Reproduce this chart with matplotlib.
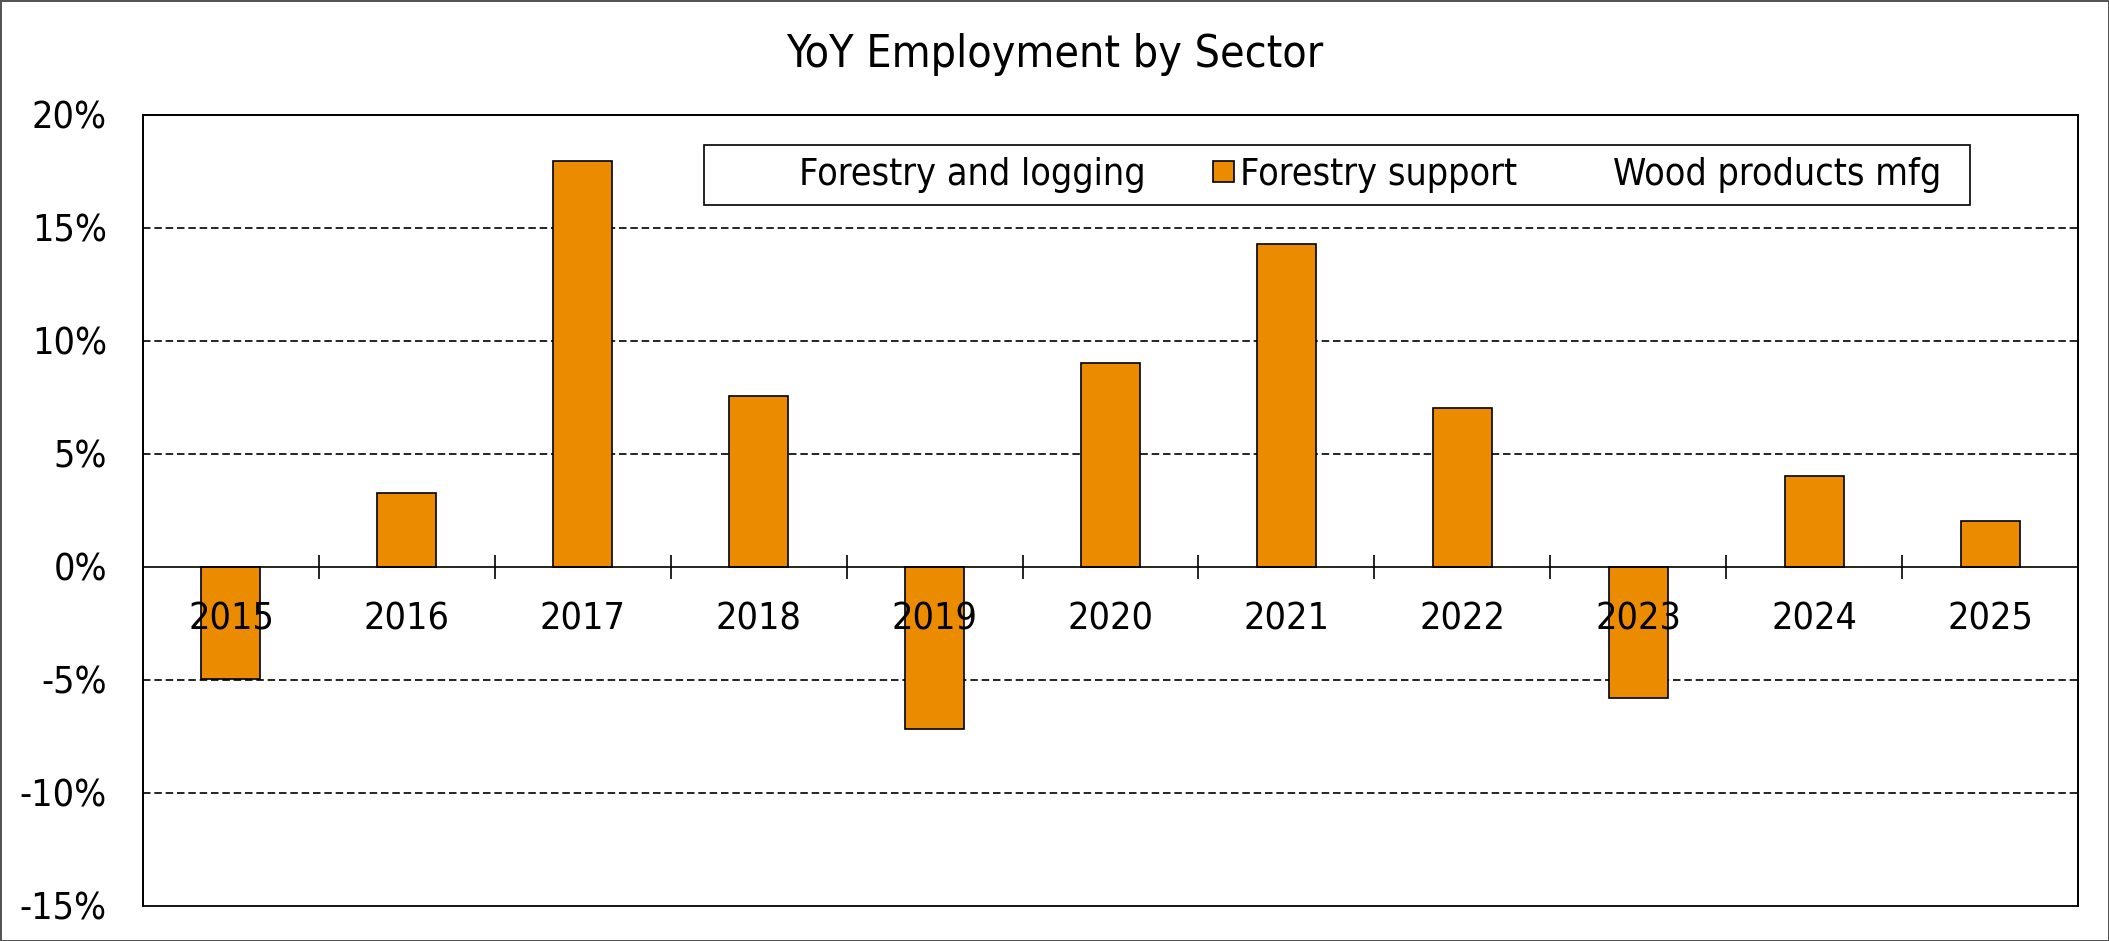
import numpy as np
import matplotlib
matplotlib.use("Agg")
import matplotlib.pyplot as plt
from matplotlib import font_manager as fm
from matplotlib.patches import Rectangle
from matplotlib.container import BarContainer
from matplotlib.legend_handler import HandlerPatch, update_from_first_child
from matplotlib.ticker import FixedLocator, FuncFormatter

# Data (YoY change, %)
years = ["2015", "2016", "2017", "2018", "2019", "2020",
         "2021", "2022", "2023", "2024", "2025"]
series_names = ["Forestry and logging", "Forestry support", "Wood products mfg"]
forestry_logging = [np.nan] * len(years)      # not shown in the chart
forestry_support = [-4.97, 3.26, 17.96, 7.54, -7.19, 9.0,
                    14.29, 7.01, -5.83, 4.03, 2.01]
wood_products = [np.nan] * len(years)         # not shown in the chart
y_ticks = [-15, -10, -5, 0, 5, 10, 15, 20]

# Tahoma-like font: condensed DejaVu if it is there, else Liberation Sans
path = fm.findfont(fm.FontProperties(family="DejaVu Sans", stretch="condensed"))
if "Condensed" in path:
    plt.rcParams["font.family"] = ["DejaVu Sans"]
    plt.rcParams["font.stretch"] = "condensed"
else:
    plt.rcParams["font.family"] = ["Liberation Sans", "DejaVu Sans"]

fs = 27.0
fig = plt.figure(figsize=(21.09, 9.41), dpi=100)
fig.patch.set_edgecolor("#555555")
fig.patch.set_linewidth(2)
ax = fig.add_axes([0.0678, 0.0375, 0.9175, 0.8406])

x = np.arange(len(years))
w = 0.335
b1 = ax.bar(x - w, forestry_logging, w, color="none", edgecolor="none",
            label=series_names[0])
b2 = ax.bar(x, forestry_support, w, color="#EB8B00", edgecolor="black",
            linewidth=1.2, label=series_names[1])
b3 = ax.bar(x + w, wood_products, w, color="none", edgecolor="none",
            label=series_names[2])

ax.set_xlim(-0.5, len(years) - 0.5)
ax.set_ylim(y_ticks[0], y_ticks[-1])

# dashed gridlines behind the bars
grid_vals = [v for v in y_ticks if v not in (0, y_ticks[0], y_ticks[-1])]
ax.hlines(grid_vals, -0.5, len(years) - 0.5, colors="black",
          linestyles=(0, (4.5, 2.3)), linewidth=1.2, zorder=0.5)

# y axis
ax.set_yticks(y_ticks)
ax.yaxis.set_major_formatter(FuncFormatter(lambda v, p: "%d%%" % v))
ax.tick_params(axis="y", length=0, pad=26, labelsize=fs)

# x axis sits on the zero line, tick marks between categories
ax.spines["bottom"].set_position(("data", 0))
ax.spines["bottom"].set_linewidth(1.2)
ax.xaxis.set_major_locator(FixedLocator(x[:-1] + 0.5))
ax.xaxis.set_minor_locator(FixedLocator(x))
ax.xaxis.set_major_formatter(FuncFormatter(lambda v, p: ""))
ax.xaxis.set_minor_formatter(FuncFormatter(lambda v, p: years[int(round(v))]))
ax.tick_params(axis="x", which="major", direction="inout", length=17,
               width=1.2)
ax.tick_params(axis="x", which="minor", length=0, pad=25, labelsize=fs)

for s in ["left", "right", "top"]:
    ax.spines[s].set_linewidth(1.3)
ax.add_patch(Rectangle((0, 0), 1, 1, transform=ax.transAxes, fill=False,
                       edgecolor="black", linewidth=1.3, clip_on=False,
                       zorder=3))


# legend: small square at the right end of each handle slot
def small_square(legend, orig_handle, xdescent, ydescent, width, height, fontsize):
    s = 0.57 * fontsize
    return Rectangle((-xdescent + width - s, -ydescent + (height - s) / 2), s, s)


ax.add_patch(Rectangle((0.2899, 0.8858), 0.6543, 0.0759, transform=ax.transAxes,
                       facecolor="white", edgecolor="black", linewidth=1.2,
                       zorder=4))
leg = ax.legend(handles=[b1, b2, b3], loc="center left", ncol=3,
                bbox_to_anchor=(0.3163, 0.9238), borderaxespad=0,
                fontsize=fs, frameon=False, handlelength=1.0,
                handleheight=0.6, handletextpad=0.16, columnspacing=1.38,
                borderpad=0,
                handler_map={BarContainer: HandlerPatch(
                    patch_func=small_square,
                    update_func=update_from_first_child)})
leg.set_zorder(5)

fig.text(0.5, 0.9291, "YoY Employment by Sector", ha="center",
         va="baseline", fontsize=32.0)

fig.savefig("out.png", dpi=100)
